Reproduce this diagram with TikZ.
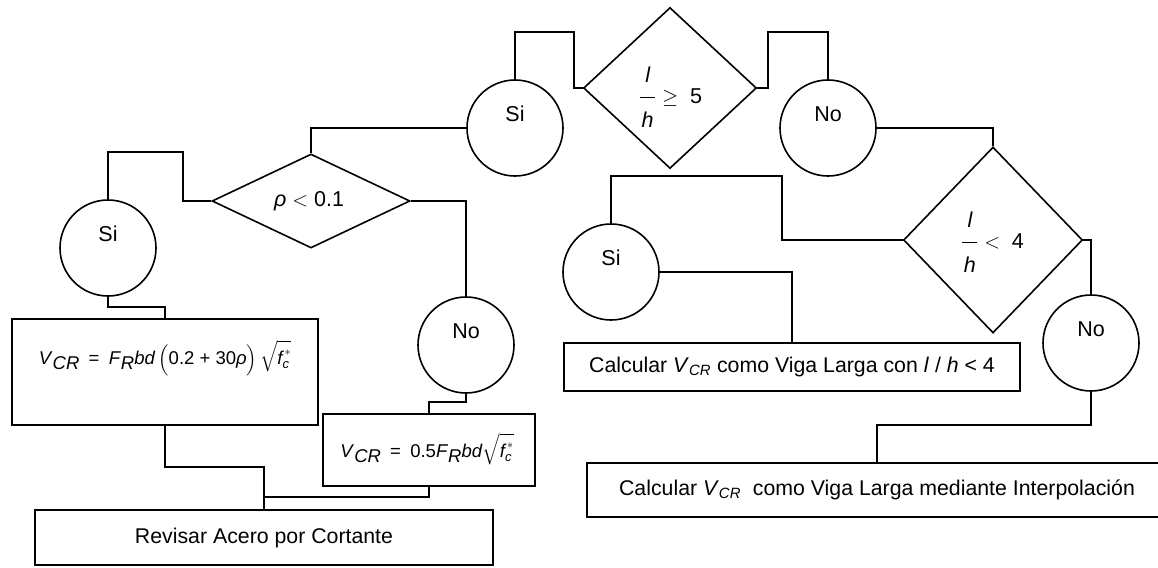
\documentclass[tikz,border=0pt]{standalone}
\usepackage{amsmath}
\usepackage{fontspec}
\setmainfont{Liberation Sans}
\usetikzlibrary{shapes.geometric,calc}

\newcommand{\myV}{\textit{V}\raisebox{-0.5ex}{\textit{CR}}}
\newcommand{\myF}{\textit{F}\raisebox{-0.5ex}{\textit{R}}}
\newcommand{\myroot}{$\sqrt{\rule[-5pt]{0pt}{24pt}\text{\itshape f}_{\text{\itshape c}}^{\,*}}$}
\newcommand{\myfrac}{\dfrac{\rule[-12pt]{0pt}{12pt}\makebox[15pt]{\itshape l}}{\rule{0pt}{27pt}\makebox[15pt]{\itshape h}}}

\tikzset{
  lw/.style={line width=1.6pt},
  conn/.style={lw},
  circ/.style={circle, draw, lw, minimum size=96pt, inner sep=0pt},
  dia/.style={diamond, draw, lw, inner sep=0pt},
  box/.style={rectangle, draw, lw, inner sep=0pt, font=\fontsize{21.3}{25}\selectfont},
  lbl/.style={inner sep=0pt, font=\fontsize{21.5}{25}\selectfont},
  frm/.style={inner sep=0pt, font=\fontsize{18.5}{22}\selectfont},
}

\begin{document}
\begin{tikzpicture}[x=1pt,y=-1pt]
\useasboundingbox (0,0) rectangle (1158,567);
\fill[white] (0,0) rectangle (1158,567);
\clip (0,0) rectangle (1158,567);

% decisions
\node[dia, minimum width=173pt, minimum height=161pt] (d1) at (670,88) {};
\node[lbl, anchor=base] (d1t) at (670.5,103) {$\myfrac\geq\text{ 5}$};

\node[dia, minimum width=198pt, minimum height=94pt] (d2) at (311,201) {};
\node[lbl] (d2t) at (309,201) {\textit{ρ} $<$ 0.1};

\node[dia, minimum width=179pt, minimum height=186pt] (d3) at (993,240) {};
\node[lbl, anchor=base] (d3t) at (992.5,248) {$\myfrac<\text{ 4}$};

% circles
\node[circ] (s1) at (515,128) {};
\node[lbl] (s1t) at ([yshift=14pt]s1.center) {Si};
\node[circ] (n1) at (828,128) {};
\node[lbl] (n1t) at ([yshift=14pt]n1.center) {No};
\node[circ] (s2) at (108,248) {};
\node[lbl] (s2t) at ([yshift=14pt]s2.center) {Si};
\node[circ] (n2) at (466,345) {};
\node[lbl] (n2t) at ([yshift=14pt]n2.center) {No};
\node[circ] (s3) at (611,272) {};
\node[lbl] (s3t) at ([yshift=14pt]s3.center) {Si};
\node[circ] (n3) at (1091,343) {};
\node[lbl] (n3t) at ([yshift=14pt]n3.center) {No};

% boxes
\node[box, minimum width=306pt, minimum height=106pt] (r1) at (165,372) {};
\node[frm] (r1t) at (165,358) {\myV\enspace=\enspace\myF\textit{bd}\,$\Bigl($0.2 + 30\textit{ρ}$\Bigr)$\,\myroot};
\node[box, minimum width=212pt, minimum height=72pt] (r2) at (429,450) {};
\node[frm] (r2t) at (427,449) {\myV\enspace=\enspace0.5\myF\textit{bd}\myroot};
\node[box, minimum width=458pt, minimum height=55pt] (r3) at (264,537.5) {Revisar Acero por Cortante};
\node[box, minimum width=456pt, minimum height=48pt] (r4) at (792,367) {Calcular \textit{V}\textsubscript{\itshape CR} como Viga Larga con \textit{l} / \textit{h} < 4};
\node[box, minimum width=580pt, minimum height=54pt] (r5) at (877,490) {Calcular \textit{V}\textsubscript{\itshape CR}\ \ como Viga Larga mediante Interpolación};

% connectors
\draw[conn] (s1.north) |- (574,32) |- (d1.west);
\draw[conn] (n1.north) |- (768,32) |- (d1.east);
\draw[conn] (s1.west) -| (d2.north);
\draw[conn] (n1.east) -| (d3.north);
\draw[conn] (s2.north) |- (183,152) |- (d2.west);
\draw[conn] (d2.east) -| (n2.north);
\draw[conn] (s2.south) |- ($(r1.north)+(0,-11)$) -- (r1.north);
\draw[conn] (n2.south) |- ($(r2.north)+(0,-11)$) -- (r2.north);
\draw[conn] (r1.south) |- ($(r3.north)+(0,-42)$) -- (r3.north);
\draw[conn] (r2.south) |- ($(r3.north)+(0,-12)$);
\draw[conn] (s3.north) |- (782,176) |- (d3.west);
\draw[conn] (s3.east) -| (r4.north);
\draw[conn] (d3.east) -| (n3.north);
\draw[conn] (n3.south) |- ($(r5.north)+(0,-37)$) -- (r5.north);
\end{tikzpicture}
\end{document}
